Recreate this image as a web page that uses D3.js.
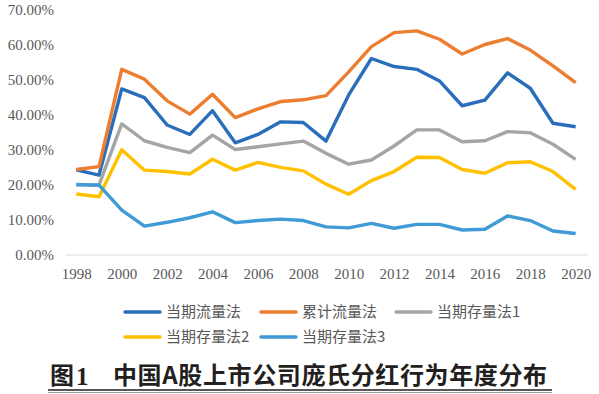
<!DOCTYPE html>
<html>
<head>
<meta charset="utf-8">
<script src="https://cdn.jsdelivr.net/npm/d3@7"></script>
<style>
  html, body { margin: 0; padding: 0; background: #fff; }
  svg { display: block; }
</style>
</head>
<body>
<div id="chart"></div>
<script>
// data (percent)
const years = d3.range(1998, 2021);
const tickYears = d3.range(1998, 2021, 2);
const yTicks = [0, 10, 20, 30, 40, 50, 60, 70];

const seriesNames = ["当期流量法", "累计流量法", "当期存量法1", "当期存量法2", "当期存量法3"];
const seriesColors = ["#2a6ebb", "#ed7d31", "#a5a5a5", "#ffc000", "#3f9ad6"];

const flowCurrent = [24.2, 22.7, 47.3, 44.8, 37.0, 34.3, 41.1, 31.9, 34.3, 37.9, 37.7, 32.4, 45.6, 56.0, 53.7, 52.9, 49.6, 42.5, 44.1, 51.9, 47.5, 37.5, 36.5];
const flowCumulative = [24.3, 25.1, 52.9, 50.1, 43.9, 40.1, 45.8, 39.1, 41.6, 43.7, 44.2, 45.4, 52.2, 59.4, 63.4, 63.9, 61.5, 57.3, 60.0, 61.7, 58.4, 53.9, 49.1];
const stock1 = [19.9, 19.9, 37.3, 32.5, 30.6, 29.1, 34.1, 30.0, 30.8, 31.6, 32.4, 28.9, 25.8, 27.0, 31.0, 35.6, 35.6, 32.2, 32.5, 35.1, 34.8, 31.5, 27.2];
const stock2 = [17.3, 16.5, 29.9, 24.1, 23.7, 23.0, 27.2, 24.1, 26.3, 24.9, 23.9, 20.1, 17.2, 21.1, 23.7, 27.8, 27.7, 24.3, 23.2, 26.2, 26.5, 23.7, 18.6];
const stock3 = [20.0, 19.8, 12.7, 8.1, 9.2, 10.5, 12.2, 9.1, 9.7, 10.1, 9.7, 7.9, 7.6, 8.9, 7.5, 8.6, 8.6, 7.0, 7.2, 11.0, 9.7, 6.7, 6.0];

const seriesValues = [flowCurrent, flowCumulative, stock1, stock2, stock3];

const width = 599, height = 394;

const svg = d3.select("#chart").append("svg")
    .attr("width", width)
    .attr("height", height);

const x = d3.scalePoint().domain(years).range([65, 587]).padding(0.5);
const y = d3.scaleLinear().domain([0, 70]).range([254.5, 9.5]);

// y axis labels
svg.append("g")
    .selectAll("text")
    .data(yTicks)
    .join("text")
    .attr("x", 54)
    .attr("y", d => y(d))
    .attr("dy", "0.35em")
    .attr("text-anchor", "end")
    .attr("fill", "#595959")
    .style("font", "15px 'Liberation Serif', serif")
    .text(d => d.toFixed(2) + "%");

// x axis
const xAxis = svg.append("g")
    .attr("transform", `translate(0,${y(0)})`)
    .call(d3.axisBottom(x).tickValues(tickYears).tickSize(0).tickPadding(14));
xAxis.select(".domain").attr("stroke", "#d9d9d9").attr("stroke-width", 1.2);
xAxis.selectAll("text")
    .attr("fill", "#595959")
    .style("font", "15px 'Liberation Serif', serif");

// lines
const line = d3.line()
    .defined(d => d != null)
    .x((d, i) => x(years[i]))
    .y(d => y(d));

svg.append("g")
    .selectAll("path")
    .data(seriesValues)
    .join("path")
    .attr("fill", "none")
    .attr("stroke", (d, i) => seriesColors[i])
    .attr("stroke-width", 3.4)
    .attr("stroke-linejoin", "round")
    .attr("d", line);

// legend
const legendPos = [[125, 312], [261, 312], [396, 312], [125, 337], [261, 337]];
const legend = svg.append("g")
    .selectAll("g")
    .data(seriesNames)
    .join("g")
    .attr("transform", (d, i) => `translate(${legendPos[i][0]},${legendPos[i][1]})`);

legend.append("line")
    .attr("x1", 0).attr("x2", 35)
    .attr("stroke", (d, i) => seriesColors[i])
    .attr("stroke-width", 3.4)
    .attr("stroke-linecap", "round");

legend.append("text")
    .attr("x", 41)
    .attr("dy", "0.35em")
    .attr("fill", "#595959")
    .style("font", "15px 'Noto Sans CJK SC', sans-serif")
    .text(d => d);

// caption
const caption = svg.append("g")
    .attr("fill", "#231f20")
    .style("font", "bold 24px 'Noto Sans CJK SC', sans-serif");
caption.append("text").attr("x", 50).attr("y", 376).attr("dy", "0.35em").text("图");
caption.append("text").attr("x", 76).attr("y", 376).attr("dy", "0.35em")
    .style("font", "bold 25px 'Liberation Serif', serif")
    .text("1");
caption.append("text").attr("x", 113).attr("y", 376).attr("dy", "0.35em")
    .attr("textLength", 434).attr("lengthAdjust", "spacing")
    .text("中国A股上市公司庞氏分红行为年度分布");

svg.append("line")
    .attr("x1", 48).attr("x2", 552)
    .attr("y1", 390).attr("y2", 390)
    .attr("stroke", "#231f20").attr("stroke-width", 1.5);
svg.append("line")
    .attr("x1", 48).attr("x2", 552)
    .attr("y1", 392.5).attr("y2", 392.5)
    .attr("stroke", "#9a9a9a").attr("stroke-width", 1);
</script>
</body>
</html>
